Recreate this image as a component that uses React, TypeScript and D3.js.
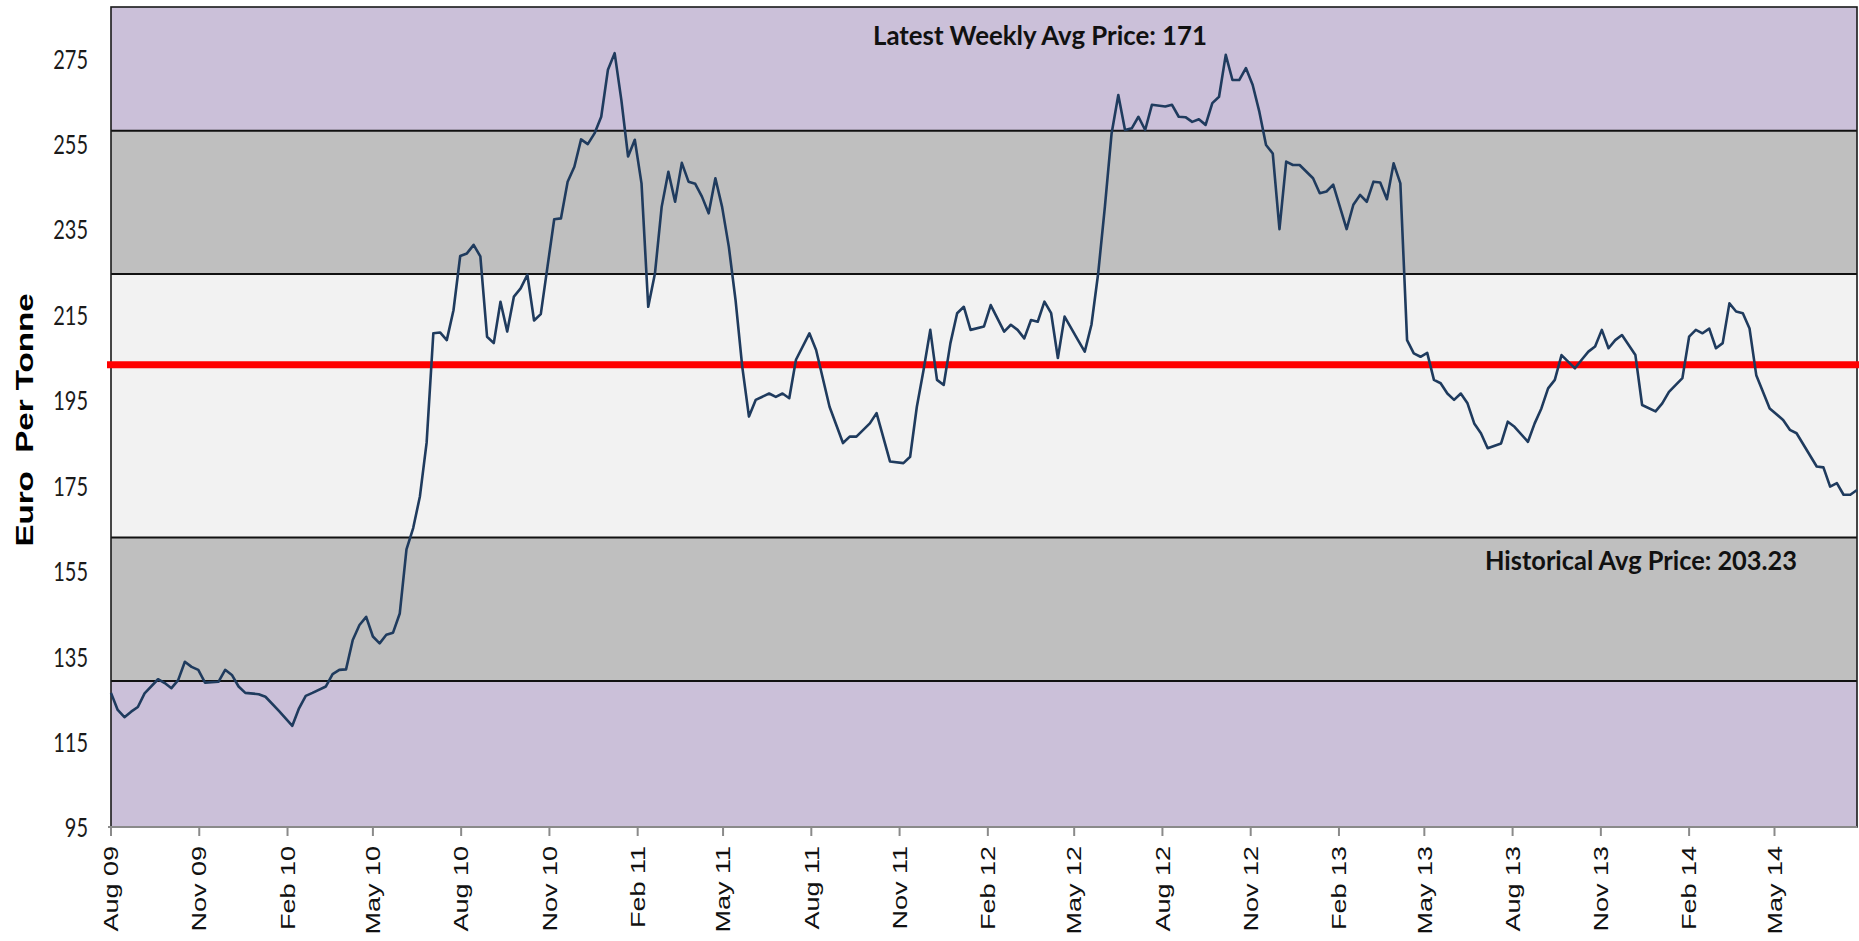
import React from 'react';
import * as d3 from 'd3';

// weekly series, week 0 = first week of Aug 2009
const startDate = new Date(2009, 7, 1);
const weeks = [
  0, 1, 2, 3, 4, 5, 7, 8, 9, 10, 11, 12, 13, 14, 16, 17, 18, 19, 20, 22, 23, 25, 27, 28, 29, 30,
  32, 33, 34, 35, 36, 37, 38, 39, 40, 41, 42, 43, 44, 45, 46, 47, 48, 49, 50, 51, 52, 53, 54, 55,
  56, 57, 58, 59, 60, 61, 62, 63, 64, 65, 66, 67, 68, 69, 70, 71, 72, 73, 74, 75, 76, 77, 78, 79,
  80, 81, 82, 83, 84, 85, 86, 87, 88, 89, 90, 91, 92, 93, 94, 95, 96, 98, 99, 100, 101, 102, 104,
  105, 107, 109, 110, 111, 113, 114, 116, 118, 119, 120, 121, 122, 123, 124, 125, 126, 127, 128,
  130, 131, 133, 134, 135, 136, 137, 138, 139, 140, 141, 142, 144, 145, 146, 147, 148, 149, 150,
  151, 152, 153, 154, 155, 157, 158, 159, 160, 161, 162, 163, 164, 165, 166, 167, 168, 169, 170,
  171, 172, 173, 174, 175, 176, 177, 179, 180, 181, 182, 184, 185, 186, 187, 188, 189, 190, 191,
  192, 193, 194, 195, 196, 197, 198, 199, 200, 201, 202, 203, 204, 205, 207, 208, 209, 211, 212,
  213, 214, 215, 216, 218, 219, 220, 221, 222, 223, 224, 225, 227, 228, 230, 231, 232, 234, 235,
  236, 237, 238, 239, 240, 241, 242, 243, 244, 245, 247, 249, 250, 251, 254, 255, 256, 257, 258,
  259, 260,
];
const prices = [
  126.4, 122.4, 120.7, 122, 123.1, 126.3, 129.6, 128.7, 127.5, 129.4, 133.7, 132.5, 131.8, 128.8,
  129, 131.8, 130.6, 127.9, 126.4, 126.1, 125.5, 122.2, 118.7, 122.8, 125.7, 126.4,
  127.9, 130.8, 131.8, 131.9, 138.8, 142.3, 144.2, 139.6, 138, 140, 140.5, 145, 160, 165, 172.4,
  185, 210.6, 210.8, 209, 216, 228.7, 229.3, 231.3, 228.6,
  209.8, 208.3, 218, 211, 219.2, 221.1, 224.3, 213.6, 215.1, 226.2, 237.3, 237.5, 246.1, 249.6,
  256, 254.9, 257.4, 261.3, 272.3, 276.2, 265.2, 252, 255.9, 245.7,
  216.8, 224.6, 240.2, 248.4, 241.4, 250.5, 246.1, 245.6, 242.6, 238.7, 246.9, 240.2, 230.9,
  218.4, 202.8, 191.1, 195, 196.5, 195.7, 196.5, 195.4, 204.4, 210.6,
  206.7, 193.4, 184.9, 186.4, 186.4, 189.5, 191.9, 180.6, 180.2, 181.7, 193.4, 202, 211.4, 199.7,
  198.5, 208.3, 215.3, 216.8, 211.4,
  212.2, 217.2, 211, 212.6, 211.4, 209.4, 213.7, 213.3, 218, 215.3, 204.8, 214.5, 209, 206.3,
  212.6, 224.6, 240.2, 257.4, 266.4,
  258.2, 258.6, 261.3, 258.2, 264.1, 263.7, 264.1, 261.3, 261.2, 260.1, 260.7, 259.4, 264.5, 266,
  275.8, 269.9, 269.9, 272.7, 268.8,
  262.5, 254.7, 252.7, 235, 250.8, 250, 250, 246.9, 243.4, 243.8, 245.4, 235, 240.7, 243, 241.4,
  246.1, 245.9, 242, 250.4,
  245.7, 209, 205.9, 205.1, 206, 199.7, 198.9, 196.5, 195, 196.5, 194.2, 189.5, 187.2, 183.7,
  184.8, 189.9, 188.7, 185.2, 189.5,
  193, 197.7, 199.7, 205.5, 202.4, 204.4, 206.3, 207.5, 211.4, 207.1, 209, 210.2, 205.5, 193.8,
  192.3, 194.2, 196.9, 200.1, 209.8,
  211.4, 210.6, 211.7, 207.1, 208.3, 217.6, 215.7, 215.3, 211.7, 200.8, 193, 190.3, 188, 187.2,
  179.4, 179.2, 174.7, 175.5, 172.8,
  172.8, 173.9,
];

const yTicks = [95, 115, 135, 155, 175, 195, 215, 235, 255, 275];
const xTickLabels = [
  'Aug 09', 'Nov 09', 'Feb 10', 'May 10', 'Aug 10', 'Nov 10', 'Feb 11', 'May 11', 'Aug 11',
  'Nov 11', 'Feb 12', 'May 12', 'Aug 12', 'Nov 12', 'Feb 13', 'May 13', 'Aug 13', 'Nov 13',
  'Feb 14', 'May 14',
];

// band edges (price levels) and fill colours, bottom to top
const bandEdges = [95, 129.2, 162.8, 224.5, 258, 287];
const bandColors = ['#CBC0D9', '#BFBFBF', '#F2F2F2', '#BFBFBF', '#CBC0D9'];
const historicalAvg = 203.23;
const latestPrice = 171;

const W = 1859, H = 941;
const left = 111, right = 1857, top = 7, bottom = 827;

const App = () => {
  const lastWeek = weeks[weeks.length - 1];
  const x = d3.scaleTime()
    .domain([startDate, d3.timeDay.offset(startDate, lastWeek * 7)])
    .range([left, right]);
  const y = d3.scaleLinear().domain([95, 287]).range([bottom, top]);

  const points: [Date, number][] = weeks.map((w, i) => [d3.timeDay.offset(startDate, w * 7), prices[i]]);
  const line = d3.line<[Date, number]>().x(d => x(d[0])).y(d => y(d[1]));

  const parseTick = d3.timeParse('%b %y');

  return (
    <svg width={W} height={H} style={{ position: 'absolute', left: 0, top: 0, background: '#fff' }}>
      {bandColors.map((c, i) => (
        <rect key={i} x={left} width={right - left}
          y={y(bandEdges[i + 1])} height={y(bandEdges[i]) - y(bandEdges[i + 1])} fill={c} />
      ))}
      {bandEdges.slice(1, -1).map((v, i) => (
        <line key={i} x1={left} x2={right} y1={y(v)} y2={y(v)} stroke="#111" strokeWidth={2} />
      ))}
      <rect x={left} y={top} width={right - left} height={bottom - top} fill="none" stroke="#1a1a1a" strokeWidth={1.6} />

      <line x1={107} x2={W} y1={y(historicalAvg)} y2={y(historicalAvg)} stroke="#FF0000" strokeWidth={7} />
      <path d={line(points) || ''} fill="none" stroke="#1F3B5E" strokeWidth={2.6} strokeLinejoin="round" />

      {/* x axis */}
      <line x1={108} x2={right} y1={bottom} y2={bottom} stroke="#8A8A8A" strokeWidth={2} />
      {xTickLabels.map(t => {
        const xp = x(parseTick(t) as Date);
        return (
          <g key={t}>
            <line x1={xp} x2={xp} y1={bottom} y2={bottom + 9} stroke="#8A8A8A" strokeWidth={2} />
            <text transform={`translate(${xp},846) rotate(-90) scale(1.35,1)`} textAnchor="end" dy="0.36em"
              fontFamily="'Liberation Sans', Arial, sans-serif" fontSize={20} fill="#111">{t}</text>
          </g>
        );
      })}

      {/* y axis labels */}
      {yTicks.map(v => (
        <text key={v} transform={`translate(88,${y(v) + 1}) scale(1,1.3)`} textAnchor="end" dy="0.36em"
          fontFamily="Lato, 'Open Sans', sans-serif" fontSize={20} fill="#1a1a1a">{v}</text>
      ))}
      <text transform="translate(33,420) rotate(-90) scale(1.38,1)" textAnchor="middle"
        fontFamily="'Liberation Sans', Arial, sans-serif" fontWeight="bold" fontSize={24} fill="#000"
        style={{ whiteSpace: 'pre' }}>{'Euro  Per Tonne'}</text>

      {/* annotations */}
      <text transform="translate(873,45) scale(1,1.3)" fontFamily="Lato, sans-serif" fontWeight="bold"
        fontSize={21} fill="#111" textLength={334} lengthAdjust="spacingAndGlyphs">
        {`Latest Weekly Avg Price: ${latestPrice}`}
      </text>
      <text transform="translate(1485,570) scale(1,1.3)" fontFamily="Lato, sans-serif" fontWeight="bold"
        fontSize={21} fill="#111" textLength={312} lengthAdjust="spacingAndGlyphs">
        {`Historical Avg Price: ${historicalAvg}`}
      </text>
    </svg>
  );
};

export default App;
